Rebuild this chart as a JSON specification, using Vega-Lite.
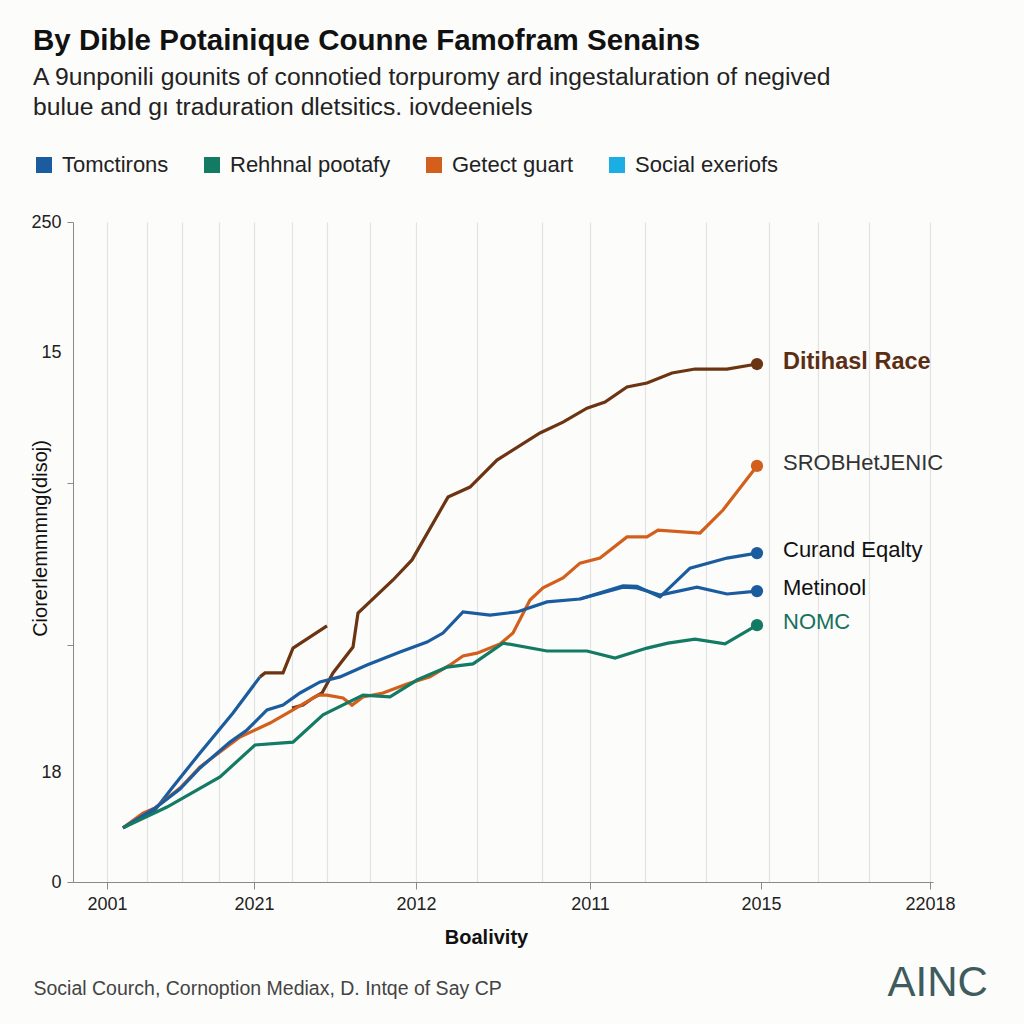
{
  "$schema": "https://vega.github.io/schema/vega-lite/v6.json",
  "width": 860,
  "height": 660,
  "autosize": {"type": "none"},
  "padding": {"left": 73, "top": 222, "right": 91, "bottom": 142},
  "background": "#fcfcfb",
  "config": {"font": "Liberation Sans", "view": {"stroke": null}},
  "title": {
    "text": "By Dible Potainique Counne Famofram Senains",
    "subtitle": ["A 9unponili gounits of connotied torpuromy ard ingestaluration of negived", "bulue and gı traduration dletsitics. iovdeeniels"],
    "anchor": "start",
    "frame": "group",
    "dx": -40,
    "offset": 33,
    "fontSize": 29.5,
    "fontWeight": "bold",
    "color": "#111111",
    "subtitleFontSize": 24.7,
    "subtitleColor": "#222222",
    "subtitleLineHeight": 30,
    "subtitlePadding": 9
  },
  "datasets": {
    "series": [
      {"line": "steep", "key": "Tomctirons", "t": 50, "v": 20.5},
      {"line": "steep", "key": "Tomctirons", "t": 82, "v": 27.3},
      {"line": "steep", "key": "Tomctirons", "t": 99, "v": 35.6},
      {"line": "steep", "key": "Tomctirons", "t": 127, "v": 48.9},
      {"line": "steep", "key": "Tomctirons", "t": 160, "v": 64.0},
      {"line": "steep", "key": "Tomctirons", "t": 187, "v": 77.7},
      {"line": "brownfrag", "key": "Ditihasl Race", "t": 187, "v": 77.7},
      {"line": "brownfrag", "key": "Ditihasl Race", "t": 192, "v": 79.2},
      {"line": "brownfrag", "key": "Ditihasl Race", "t": 210, "v": 79.2},
      {"line": "brownfrag", "key": "Ditihasl Race", "t": 220, "v": 88.6},
      {"line": "brownfrag", "key": "Ditihasl Race", "t": 254, "v": 97.0},
      {"line": "brown", "key": "Ditihasl Race", "t": 219, "v": 65.9},
      {"line": "brown", "key": "Ditihasl Race", "t": 230, "v": 67.0},
      {"line": "brown", "key": "Ditihasl Race", "t": 240, "v": 69.7},
      {"line": "brown", "key": "Ditihasl Race", "t": 249, "v": 71.6},
      {"line": "brown", "key": "Ditihasl Race", "t": 260, "v": 79.2},
      {"line": "brown", "key": "Ditihasl Race", "t": 280, "v": 89.0},
      {"line": "brown", "key": "Ditihasl Race", "t": 285, "v": 101.9},
      {"line": "brown", "key": "Ditihasl Race", "t": 320, "v": 114.4},
      {"line": "brown", "key": "Ditihasl Race", "t": 339, "v": 122.0},
      {"line": "brown", "key": "Ditihasl Race", "t": 375, "v": 145.8},
      {"line": "brown", "key": "Ditihasl Race", "t": 397, "v": 149.6},
      {"line": "brown", "key": "Ditihasl Race", "t": 424, "v": 159.8},
      {"line": "brown", "key": "Ditihasl Race", "t": 467, "v": 170.1},
      {"line": "brown", "key": "Ditihasl Race", "t": 490, "v": 174.2},
      {"line": "brown", "key": "Ditihasl Race", "t": 514, "v": 179.5},
      {"line": "brown", "key": "Ditihasl Race", "t": 532, "v": 181.8},
      {"line": "brown", "key": "Ditihasl Race", "t": 554, "v": 187.5},
      {"line": "brown", "key": "Ditihasl Race", "t": 574, "v": 189.0},
      {"line": "brown", "key": "Ditihasl Race", "t": 599, "v": 192.8},
      {"line": "brown", "key": "Ditihasl Race", "t": 622, "v": 194.3},
      {"line": "brown", "key": "Ditihasl Race", "t": 654, "v": 194.3},
      {"line": "brown", "key": "Ditihasl Race", "t": 684, "v": 196.2},
      {"line": "orange", "key": "Getect guart", "t": 50, "v": 20.5},
      {"line": "orange", "key": "Getect guart", "t": 70, "v": 26.1},
      {"line": "orange", "key": "Getect guart", "t": 82, "v": 28.0},
      {"line": "orange", "key": "Getect guart", "t": 107, "v": 35.6},
      {"line": "orange", "key": "Getect guart", "t": 127, "v": 43.6},
      {"line": "orange", "key": "Getect guart", "t": 167, "v": 54.9},
      {"line": "orange", "key": "Getect guart", "t": 197, "v": 60.2},
      {"line": "orange", "key": "Getect guart", "t": 220, "v": 65.2},
      {"line": "orange", "key": "Getect guart", "t": 245, "v": 70.8},
      {"line": "orange", "key": "Getect guart", "t": 254, "v": 70.8},
      {"line": "orange", "key": "Getect guart", "t": 270, "v": 69.7},
      {"line": "orange", "key": "Getect guart", "t": 279, "v": 67.0},
      {"line": "orange", "key": "Getect guart", "t": 290, "v": 70.1},
      {"line": "orange", "key": "Getect guart", "t": 310, "v": 71.6},
      {"line": "orange", "key": "Getect guart", "t": 334, "v": 75.0},
      {"line": "orange", "key": "Getect guart", "t": 357, "v": 77.7},
      {"line": "orange", "key": "Getect guart", "t": 377, "v": 82.2},
      {"line": "orange", "key": "Getect guart", "t": 390, "v": 85.6},
      {"line": "orange", "key": "Getect guart", "t": 404, "v": 86.7},
      {"line": "orange", "key": "Getect guart", "t": 427, "v": 90.2},
      {"line": "orange", "key": "Getect guart", "t": 440, "v": 94.3},
      {"line": "orange", "key": "Getect guart", "t": 457, "v": 106.8},
      {"line": "orange", "key": "Getect guart", "t": 470, "v": 111.4},
      {"line": "orange", "key": "Getect guart", "t": 490, "v": 115.2},
      {"line": "orange", "key": "Getect guart", "t": 507, "v": 120.8},
      {"line": "orange", "key": "Getect guart", "t": 527, "v": 122.7},
      {"line": "orange", "key": "Getect guart", "t": 554, "v": 130.7},
      {"line": "orange", "key": "Getect guart", "t": 574, "v": 130.7},
      {"line": "orange", "key": "Getect guart", "t": 585, "v": 133.3},
      {"line": "orange", "key": "Getect guart", "t": 627, "v": 132.2},
      {"line": "orange", "key": "Getect guart", "t": 650, "v": 140.9},
      {"line": "orange", "key": "Getect guart", "t": 684, "v": 157.6},
      {"line": "metinool", "key": "Tomctirons", "t": 50, "v": 20.5},
      {"line": "metinool", "key": "Tomctirons", "t": 82, "v": 28.0},
      {"line": "metinool", "key": "Tomctirons", "t": 107, "v": 35.2},
      {"line": "metinool", "key": "Tomctirons", "t": 127, "v": 43.2},
      {"line": "metinool", "key": "Tomctirons", "t": 157, "v": 53.0},
      {"line": "metinool", "key": "Tomctirons", "t": 174, "v": 57.6},
      {"line": "metinool", "key": "Tomctirons", "t": 194, "v": 65.2},
      {"line": "metinool", "key": "Tomctirons", "t": 210, "v": 67.0},
      {"line": "metinool", "key": "Tomctirons", "t": 227, "v": 71.6},
      {"line": "metinool", "key": "Tomctirons", "t": 247, "v": 75.8},
      {"line": "metinool", "key": "Tomctirons", "t": 267, "v": 77.7},
      {"line": "metinool", "key": "Tomctirons", "t": 294, "v": 82.2},
      {"line": "metinool", "key": "Tomctirons", "t": 327, "v": 87.1},
      {"line": "metinool", "key": "Tomctirons", "t": 354, "v": 90.9},
      {"line": "metinool", "key": "Tomctirons", "t": 370, "v": 94.3},
      {"line": "metinool", "key": "Tomctirons", "t": 390, "v": 102.3},
      {"line": "metinool", "key": "Tomctirons", "t": 417, "v": 101.1},
      {"line": "metinool", "key": "Tomctirons", "t": 444, "v": 102.3},
      {"line": "metinool", "key": "Tomctirons", "t": 474, "v": 106.1},
      {"line": "metinool", "key": "Tomctirons", "t": 507, "v": 107.2},
      {"line": "metinool", "key": "Tomctirons", "t": 550, "v": 111.7},
      {"line": "metinool", "key": "Tomctirons", "t": 564, "v": 111.4},
      {"line": "metinool", "key": "Tomctirons", "t": 587, "v": 108.7},
      {"line": "metinool", "key": "Tomctirons", "t": 624, "v": 111.7},
      {"line": "metinool", "key": "Tomctirons", "t": 654, "v": 109.1},
      {"line": "metinool", "key": "Tomctirons", "t": 684, "v": 110.2},
      {"line": "curand", "key": "Tomctirons", "t": 507, "v": 107.2},
      {"line": "curand", "key": "Tomctirons", "t": 550, "v": 112.2},
      {"line": "curand", "key": "Tomctirons", "t": 564, "v": 112.0},
      {"line": "curand", "key": "Tomctirons", "t": 587, "v": 108.0},
      {"line": "curand", "key": "Tomctirons", "t": 617, "v": 118.9},
      {"line": "curand", "key": "Tomctirons", "t": 654, "v": 122.7},
      {"line": "curand", "key": "Tomctirons", "t": 684, "v": 124.6},
      {"line": "teal", "key": "Rehhnal pootafy", "t": 50, "v": 20.5},
      {"line": "teal", "key": "Rehhnal pootafy", "t": 94, "v": 28.4},
      {"line": "teal", "key": "Rehhnal pootafy", "t": 147, "v": 39.8},
      {"line": "teal", "key": "Rehhnal pootafy", "t": 182, "v": 51.9},
      {"line": "teal", "key": "Rehhnal pootafy", "t": 220, "v": 53.0},
      {"line": "teal", "key": "Rehhnal pootafy", "t": 250, "v": 63.3},
      {"line": "teal", "key": "Rehhnal pootafy", "t": 290, "v": 70.8},
      {"line": "teal", "key": "Rehhnal pootafy", "t": 317, "v": 70.1},
      {"line": "teal", "key": "Rehhnal pootafy", "t": 344, "v": 76.5},
      {"line": "teal", "key": "Rehhnal pootafy", "t": 374, "v": 81.4},
      {"line": "teal", "key": "Rehhnal pootafy", "t": 400, "v": 82.6},
      {"line": "teal", "key": "Rehhnal pootafy", "t": 430, "v": 90.5},
      {"line": "teal", "key": "Rehhnal pootafy", "t": 474, "v": 87.5},
      {"line": "teal", "key": "Rehhnal pootafy", "t": 514, "v": 87.5},
      {"line": "teal", "key": "Rehhnal pootafy", "t": 542, "v": 84.8},
      {"line": "teal", "key": "Rehhnal pootafy", "t": 574, "v": 88.6},
      {"line": "teal", "key": "Rehhnal pootafy", "t": 595, "v": 90.5},
      {"line": "teal", "key": "Rehhnal pootafy", "t": 622, "v": 92.0},
      {"line": "teal", "key": "Rehhnal pootafy", "t": 652, "v": 90.2},
      {"line": "teal", "key": "Rehhnal pootafy", "t": 684, "v": 97.3}
    ],
    "ends": [
      {"line": "brown", "key": "Ditihasl Race", "label": "Ditihasl Race", "t": 684, "v": 196.2},
      {"line": "orange", "key": "Getect guart", "label": "SROBHetJENIC", "t": 684, "v": 157.6},
      {"line": "curand", "key": "Tomctirons", "label": "Curand Eqalty", "t": 684, "v": 124.6},
      {"line": "metinool", "key": "Tomctirons", "label": "Metinool", "t": 684, "v": 110.2},
      {"line": "teal", "key": "Rehhnal pootafy", "label": "NOMC", "t": 684, "v": 97.3}
    ]
  },
  "layer": [
    {
      "data": {"name": "series"},
      "mark": {"type": "line", "strokeWidth": 3.2},
      "encoding": {
        "x": {
          "field": "t", "type": "quantitative",
          "scale": {"domain": [0, 860], "nice": false, "zero": false},
          "axis": {
            "values": [34, 74, 109, 146, 181, 219, 254, 297, 343, 404, 469, 517, 572, 633, 688, 696, 745, 796, 857],
            "labelExpr": "datum.value==34?'2001':datum.value==181?'2021':datum.value==343?'2012':datum.value==517?'2011':datum.value==688?'2015':datum.value==857?'22018':''",
            "labelOverlap": false,
            "labelFlush": false,
            "grid": true,
            "gridColor": "#e3e3e3",
            "gridWidth": 1.2,
            "gridOpacity": {"condition": {"test": "datum.value == 688", "value": 0}, "value": 1},
            "tickOpacity": {"condition": {"test": "indexof([34,181,343,517,688,857], datum.value) >= 0", "value": 1}, "value": 0},
            "domainColor": "#8a8a8a",
            "tickColor": "#8a8a8a",
            "tickSize": 7,
            "labelFontSize": 18,
            "labelColor": "#222222",
            "labelPadding": 6,
            "title": "Boalivity",
            "titleFontSize": 20,
            "titleFontWeight": "bold",
            "titleColor": "#111111",
            "titleX": 413,
            "titleY": 55,
            "titleAlign": "center",
            "titleBaseline": "middle"
          }
        },
        "y": {
          "field": "v", "type": "quantitative",
          "scale": {"domain": [0, 250], "nice": false},
          "axis": {
            "values": [0, 41.3, 89.8, 151.1, 200.4, 250],
            "labelExpr": "datum.value==250?'250':datum.value==200.4?'15':datum.value==41.3?'18':datum.value==0?'0':''",
            "labelOverlap": false,
            "grid": false,
            "tickOpacity": {"condition": {"test": "datum.value == 41.3 || datum.value == 200.4", "value": 0}, "value": 1},
            "domainColor": "#8a8a8a",
            "tickColor": "#8a8a8a",
            "tickSize": 6,
            "labelFontSize": 18,
            "labelColor": "#222222",
            "labelPadding": 6,
            "title": "Ciorerlemmmng(disoj)",
            "titleFontSize": 20,
            "titleFontWeight": "normal",
            "titleColor": "#111111",
            "titleX": -33,
            "titleY": 316,
            "titleAlign": "center",
            "titleBaseline": "middle"
          }
        },
        "color": {
          "field": "key", "type": "nominal",
          "scale": {
            "domain": ["Tomctirons", "Rehhnal pootafy", "Getect guart", "Social exeriofs", "Ditihasl Race"],
            "range": ["#1b5c9e", "#137a63", "#d2601c", "#1aaee5", "#6b3412"]
          },
          "legend": {
            "values": ["Tomctirons", "Rehhnal pootafy", "Getect guart", "Social exeriofs"],
            "orient": "none",
            "legendX": -40,
            "legendY": -68,
            "direction": "horizontal",
            "title": null,
            "padding": 0,
            "symbolType": "square",
            "symbolSize": 256,
            "symbolStrokeWidth": 0,
            "labelFontSize": 22,
            "labelLimit": 400,
            "labelColor": "#222222",
            "labelOffset": 7,
            "columnPadding": 32,
            "encode": {"symbols": {"update": {"fill": {"scale": "color", "field": "value"}, "opacity": {"value": 1}}}}
          }
        },
        "detail": {"field": "line", "type": "nominal"}
      }
    },
    {
      "data": {"name": "ends"},
      "mark": {"type": "point", "filled": true, "size": 150, "opacity": 1},
      "encoding": {
        "x": {
          "field": "t", "type": "quantitative",
          "axis": {
            "orient": "bottom", "domain": false, "ticks": false, "labels": false, "grid": false,
            "title": "Social Courch, Cornoption Mediax, D. Intqe of Say CP",
            "titleX": -40, "titleY": 106, "titleAlign": "left", "titleBaseline": "middle",
            "titleFontSize": 19.5, "titleFontWeight": "normal", "titleColor": "#444444"
          }
        },
        "y": {
          "field": "v", "type": "quantitative",
          "axis": {
            "orient": "right", "domain": false, "ticks": false, "labels": false, "grid": false,
            "title": "AINC",
            "titleAngle": 0, "titleX": -46, "titleY": 760, "titleAlign": "left", "titleBaseline": "middle",
            "titleFontSize": 42, "titleFontWeight": "normal", "titleColor": "#3e5b5e"
          }
        },
        "color": {"field": "key", "type": "nominal"}
      }
    },
    {
      "data": {"name": "ends"},
      "transform": [{"filter": "datum.line == 'brown'"}],
      "mark": {"type": "text", "align": "left", "baseline": "middle", "dx": 26, "dy": -2, "fontSize": 23.5, "fontWeight": "bold", "color": "#5b2e14"},
      "encoding": {
        "x": {"field": "t", "type": "quantitative", "axis": null},
        "y": {"field": "v", "type": "quantitative", "axis": null},
        "text": {"field": "label"}
      }
    },
    {
      "data": {"name": "ends"},
      "transform": [{"filter": "datum.line != 'brown'"}],
      "mark": {"type": "text", "align": "left", "baseline": "middle", "dx": 26, "dy": -3, "fontSize": 22},
      "encoding": {
        "x": {"field": "t", "type": "quantitative", "axis": null},
        "y": {"field": "v", "type": "quantitative", "axis": null},
        "text": {"field": "label"},
        "color": {
          "condition": [
            {"test": "datum.line == 'orange'", "value": "#333333"},
            {"test": "datum.line == 'teal'", "value": "#17705e"}
          ],
          "value": "#111111"
        }
      }
    }
  ],
  "resolve": {"axis": {"x": "independent", "y": "independent"}}
}
